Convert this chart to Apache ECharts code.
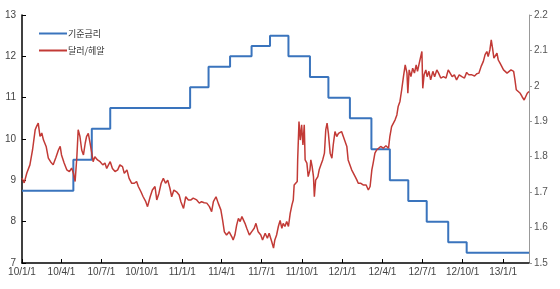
<!DOCTYPE html>
<html><head><meta charset="utf-8">
<script src="https://cdn.jsdelivr.net/npm/echarts@6/dist/echarts.min.js"></script>
<style>html,body{margin:0;padding:0;background:#fff}#c{width:560px;height:289px}</style>
</head><body><div id="c"></div>
<script>
var tickLabels = ['10/1/1','10/4/1','10/7/1','10/10/1','11/1/1','11/4/1','11/7/1','11/10/1','12/1/1','12/4/1','12/7/1','12/10/1','13/1/1'];
var leftTicks = [7,8,9,10,11,12,13];
var rightTicks = [1.5,1.6,1.7,1.8,1.9,2.0,2.1,2.2];

var rateName = '기준금리';
var rateDates = ['2010-01-01','2010-04-28','2010-06-09','2010-07-21','2011-01-19','2011-03-02','2011-04-20','2011-06-08','2011-07-20','2011-08-31','2011-10-19','2011-11-30','2012-01-18','2012-03-07','2012-04-18','2012-05-30','2012-07-11','2012-08-29','2012-10-10','2013-03-01'];
var rateValues = [8.75,9.50,10.25,10.75,11.25,11.75,12.00,12.25,12.50,12.00,11.50,11.00,10.50,9.75,9.00,8.50,8.00,7.50,7.25,7.25];

var fxName = '달러/헤알';
var fxDates = [
'2010-01-01','2010-01-06','2010-01-12','2010-01-19','2010-01-25','2010-01-31','2010-02-03','2010-02-07','2010-02-11','2010-02-15','2010-02-19','2010-02-25',
'2010-03-02','2010-03-07','2010-03-13','2010-03-19','2010-03-25','2010-03-29','2010-04-01','2010-04-07','2010-04-13','2010-04-19','2010-04-24','2010-04-28',
'2010-05-02','2010-05-06','2010-05-09','2010-05-13','2010-05-17','2010-05-21','2010-05-25','2010-05-28','2010-06-01','2010-06-05','2010-06-09','2010-06-12',
'2010-06-16','2010-06-22','2010-06-28','2010-07-04','2010-07-09','2010-07-13','2010-07-17','2010-07-21','2010-07-26','2010-08-01','2010-08-07','2010-08-12',
'2010-08-18','2010-08-22','2010-08-28','2010-09-02','2010-09-08','2010-09-14','2010-09-19','2010-09-23','2010-09-29','2010-10-04','2010-10-10','2010-10-14',
'2010-10-20','2010-10-25','2010-10-31','2010-11-04','2010-11-09','2010-11-14','2010-11-19','2010-11-24','2010-11-29','2010-12-04','2010-12-08','2010-12-13',
'2010-12-19','2010-12-25','2010-12-29','2011-01-04','2011-01-09','2011-01-15','2011-01-21','2011-01-26','2011-02-03','2011-02-09','2011-02-14','2011-02-20',
'2011-02-26','2011-03-04','2011-03-09','2011-03-13','2011-03-19','2011-03-24','2011-03-30','2011-04-03','2011-04-07','2011-04-12','2011-04-18','2011-04-24',
'2011-04-27','2011-05-01','2011-05-05','2011-05-09','2011-05-13','2011-05-17','2011-05-20','2011-05-24','2011-05-28','2011-06-03','2011-06-08','2011-06-14',
'2011-06-18','2011-06-23','2011-06-29','2011-07-03','2011-07-09','2011-07-14','2011-07-18','2011-07-24','2011-07-28','2011-07-31','2011-08-04','2011-08-08',
'2011-08-12','2011-08-16','2011-08-19','2011-08-23','2011-08-27','2011-08-31','2011-09-04','2011-09-08','2011-09-11','2011-09-13','2011-09-17','2011-09-20',
'2011-09-21','2011-09-24','2011-09-27','2011-09-30','2011-10-03','2011-10-06','2011-10-08','2011-10-12','2011-10-15','2011-10-19','2011-10-21','2011-10-24',
'2011-10-27','2011-10-29','2011-11-01','2011-11-06','2011-11-09','2011-11-13','2011-11-17','2011-11-21','2011-11-24','2011-11-27','2011-11-30','2011-12-04',
'2011-12-08','2011-12-11','2011-12-15','2011-12-19','2011-12-23','2011-12-27','2011-12-30','2012-01-03','2012-01-07','2012-01-11','2012-01-14','2012-01-18',
'2012-01-22','2012-01-26','2012-01-30','2012-02-03','2012-02-06','2012-02-12','2012-02-18','2012-02-24','2012-02-29','2012-03-04','2012-03-08','2012-03-11',
'2012-03-15','2012-03-19','2012-03-23','2012-03-28','2012-04-03','2012-04-09','2012-04-15','2012-04-18','2012-04-22','2012-04-26','2012-04-30','2012-05-04',
'2012-05-07','2012-05-11','2012-05-15','2012-05-19','2012-05-23','2012-05-27','2012-05-29','2012-06-01','2012-06-05','2012-06-09','2012-06-13','2012-06-17',
'2012-06-20','2012-06-24','2012-06-27','2012-06-30','2012-07-02','2012-07-05','2012-07-09','2012-07-12','2012-07-16','2012-07-20','2012-07-25','2012-07-29',
'2012-08-03','2012-08-07','2012-08-12','2012-08-18','2012-08-24','2012-08-29','2012-09-02','2012-09-07','2012-09-12','2012-09-17','2012-09-23','2012-09-29',
'2012-10-05','2012-10-10','2012-10-15','2012-10-22','2012-10-28','2012-11-02','2012-11-07','2012-11-12','2012-11-17','2012-11-21','2012-11-25','2012-11-28',
'2012-12-02','2012-12-05','2012-12-08','2012-12-11','2012-12-14','2012-12-18','2012-12-21','2012-12-25','2012-12-29','2013-01-02','2013-01-06','2013-01-10',
'2013-01-13','2013-01-19','2013-01-25','2013-01-28','2013-01-31','2013-02-03','2013-02-09','2013-02-13','2013-02-18','2013-02-22','2013-02-25','2013-03-01'
];
var fxValues = [
1.740,1.726,1.754,1.777,1.819,1.876,1.885,1.895,1.857,1.867,1.847,1.829,
1.796,1.786,1.777,1.797,1.819,1.829,1.805,1.782,1.763,1.758,1.768,1.754,
1.730,1.800,1.876,1.857,1.819,1.805,1.838,1.857,1.866,1.839,1.810,1.786,
1.800,1.791,1.786,1.777,1.782,1.767,1.777,1.786,1.767,1.758,1.763,1.777,
1.772,1.753,1.763,1.739,1.725,1.725,1.730,1.716,1.701,1.687,1.673,1.659,
1.687,1.706,1.716,1.678,1.697,1.725,1.739,1.725,1.734,1.711,1.687,1.706,
1.701,1.692,1.673,1.654,1.687,1.678,1.678,1.683,1.678,1.669,1.673,1.670,
1.669,1.659,1.645,1.673,1.687,1.669,1.650,1.621,1.588,1.579,1.588,1.574,
1.565,1.579,1.607,1.626,1.617,1.631,1.626,1.612,1.598,1.579,1.588,1.598,
1.612,1.588,1.579,1.565,1.584,1.570,1.584,1.560,1.542,1.565,1.579,1.603,
1.620,1.598,1.612,1.603,1.617,1.603,1.640,1.664,1.678,1.720,1.716,1.730,
1.791,1.899,1.847,1.890,1.833,1.890,1.791,1.782,1.744,1.763,1.791,1.772,
1.744,1.687,1.734,1.744,1.763,1.777,1.791,1.810,1.876,1.895,1.866,1.810,
1.796,1.833,1.871,1.857,1.866,1.862,1.871,1.866,1.843,1.829,1.791,1.786,
1.763,1.758,1.744,1.734,1.725,1.725,1.720,1.720,1.706,1.716,1.763,1.782,
1.810,1.819,1.824,1.829,1.824,1.831,1.824,1.857,1.885,1.880,1.904,1.918,
1.942,1.956,1.989,2.026,2.059,2.036,1.979,2.045,2.026,2.050,2.036,2.059,
2.041,2.064,2.069,2.097,1.993,2.031,2.045,2.026,2.041,2.017,2.041,2.026,
2.045,2.036,2.022,2.026,2.022,2.045,2.041,2.026,2.031,2.017,2.031,2.026,
2.022,2.038,2.031,2.031,2.028,2.034,2.036,2.055,2.069,2.088,2.097,2.083,
2.102,2.130,2.106,2.078,2.083,2.092,2.073,2.064,2.069,2.045,2.050,2.036,
2.038,2.045,2.041,2.017,1.989,1.993,1.979,1.970,1.960,1.965,1.979,1.984
];

function toTime(s){var p=s.split('-');return Date.UTC(+p[0],+p[1]-1,+p[2]);}
function labelToTime(l){var p=l.split('/');return Date.UTC(2000+ +p[0],+p[1]-1,+p[2]);}
var tickTimes = tickLabels.map(labelToTime);
var labelMap = {}; tickTimes.forEach(function(t,i){labelMap[t]=tickLabels[i];});

var rateData = rateDates.map(function(d,i){return [toTime(d), rateValues[i]];});
var fxData = fxDates.map(function(d,i){return [toTime(d), fxValues[i]];});

var BLUE = '#3a74bd', RED = '#c23a36';
var font = 'Liberation Sans, Arial, sans-serif';

var chart = echarts.init(document.getElementById('c'), null, {renderer:'canvas'});
chart.setOption({
  animation: false,
  backgroundColor: '#fff',
  grid: {left: 22, right: 31, top: 15, bottom: 26, containLabel: false},
  legend: {
    orient: 'vertical', left: 34, top: 24, itemGap: 8,
    itemWidth: 28, itemHeight: 9,
    textStyle: {fontSize: 9, color: '#333', fontFamily: 'Noto Sans CJK KR, sans-serif', padding: [0,0,0,-4]},
    data: [
      {name: rateName, icon: 'path://M0,4 L28,4 L28,6 L0,6 Z'},
      {name: fxName, icon: 'path://M0,4 L28,4 L28,6 L0,6 Z'}
    ]
  },
  xAxis: {
    type: 'value',
    min: tickTimes[0],
    max: toTime('2013-03-01'),
    axisLine: {lineStyle: {color: '#000', width: 1.5}},
    axisTick: {inside: true, length: 4, lineStyle: {color: '#000'}, customValues: tickTimes},
    axisLabel: {
      customValues: tickTimes,
      formatter: function(v){return labelMap[v] || '';},
      fontSize: 10, color: '#444', fontFamily: font, margin: 4, hideOverlap: false
    },
    splitLine: {show: false}
  },
  yAxis: [
    {
      type: 'value', min: leftTicks[0], max: leftTicks[leftTicks.length-1], interval: 1,
      axisLine: {show: true, lineStyle: {color: '#000', width: 1.5}},
      axisTick: {show: true, inside: true, length: 4, lineStyle: {color: '#000'}},
      axisLabel: {fontSize: 10, color: '#444', fontFamily: font, margin: 6},
      splitLine: {show: false}
    },
    {
      type: 'value', position: 'right', min: rightTicks[0], max: rightTicks[rightTicks.length-1], interval: 0.1,
      axisLine: {show: true, lineStyle: {color: '#999', width: 1}},
      axisTick: {show: true, inside: false, length: 3, lineStyle: {color: '#999'}},
      axisLabel: {fontSize: 10, color: '#555', fontFamily: font, margin: 5,
        formatter: function(v){return String(Math.round(v*10)/10);}},
      splitLine: {show: false}
    }
  ],
  series: [
    {
      name: rateName, type: 'line', yAxisIndex: 0, step: 'end', showSymbol: false,
      lineStyle: {color: BLUE, width: 2}, itemStyle: {color: BLUE},
      data: rateData
    },
    {
      name: fxName, type: 'line', yAxisIndex: 1, showSymbol: false,
      lineStyle: {color: RED, width: 1.5}, itemStyle: {color: RED},
      data: fxData
    }
  ]
});
</script></body></html>
